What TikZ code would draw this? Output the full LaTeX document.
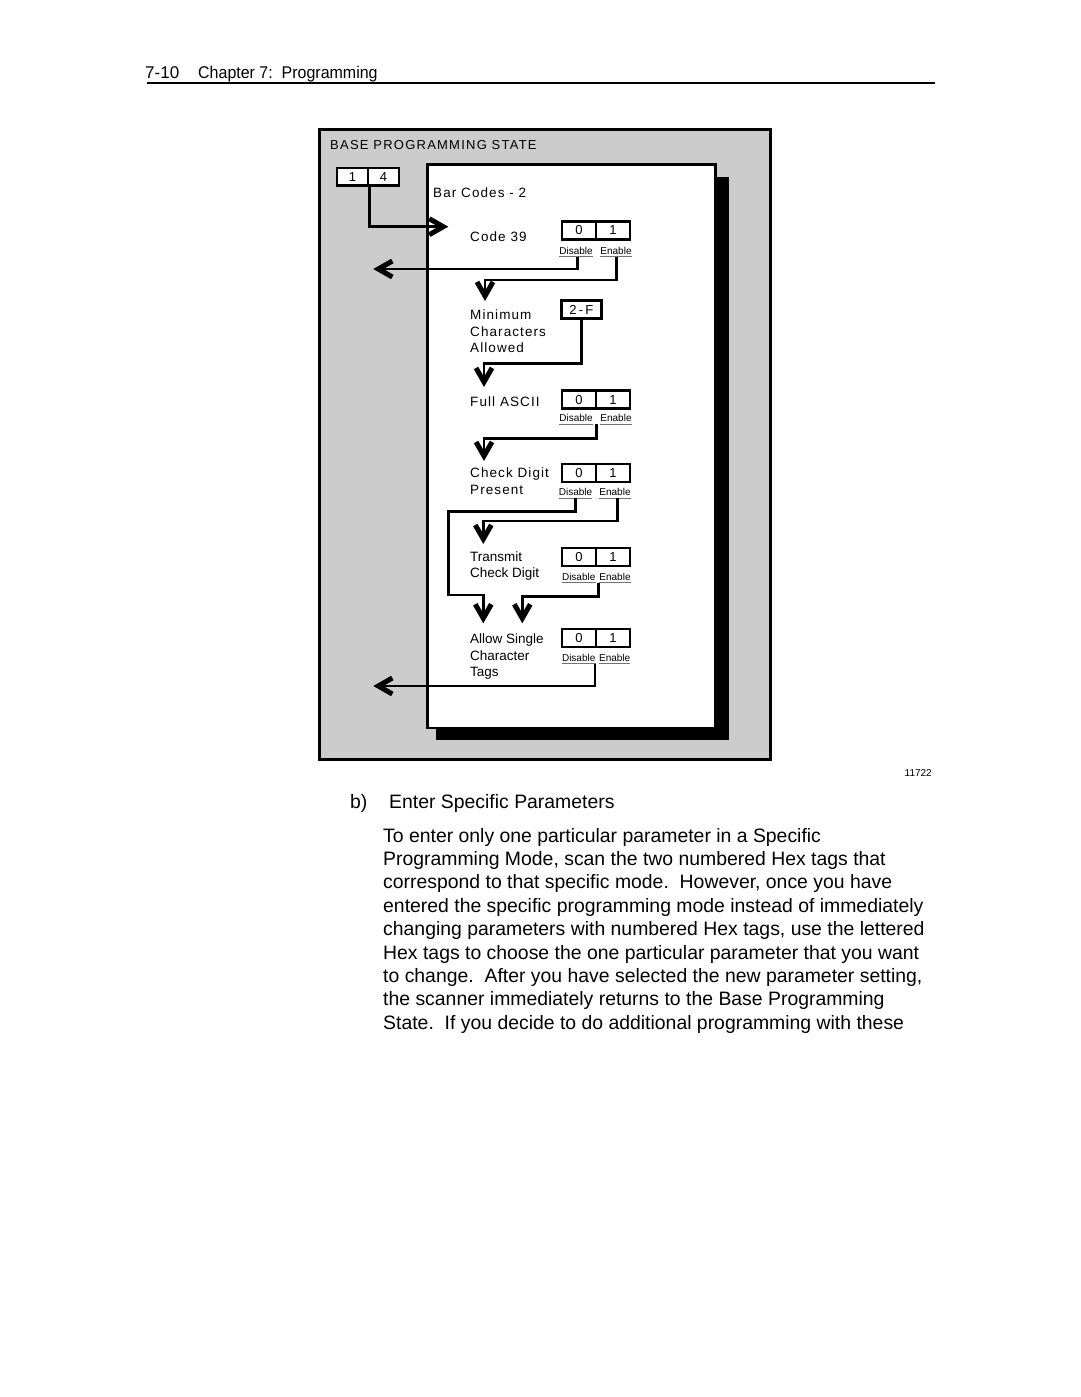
\documentclass[tikz,border=0pt]{standalone}
\usepackage{fontspec}
\setmainfont{Liberation Sans}
\newfontfamily\spc[LetterSpace=8]{Liberation Sans}
\newfontfamily\spcb[LetterSpace=9.5]{Liberation Sans}
\newfontfamily\hdr[FakeStretch=0.94]{Liberation Sans}
\usetikzlibrary{arrows.meta}
\definecolor{panelgray}{RGB}{204,204,204}
\begin{document}
\begin{tikzpicture}[x=1pt,y=-1pt,
  conn/.style={line width=2.6pt, line join=miter},
  arr/.style={conn, -{Straight Barb[length=14pt,width=16pt,line width=5pt]}},
  cell/.style={draw, line width=2.6pt, fill=white, minimum width=34pt, minimum height=18pt, inner sep=0pt, font=\spc\fontsize{13}{13}\selectfont},
  lbl/.style={inner sep=0pt, anchor=base, font=\fontsize{10}{10}\selectfont},
  uline/.style={draw=black!55, line width=0.8pt},
  txt/.style={inner sep=0pt, anchor=base west, font=\spc\fontsize{13.5}{16}\selectfont},
  txtn/.style={inner sep=0pt, anchor=base west, font=\fontsize{13.5}{16}\selectfont},
  para/.style={inner sep=0pt, anchor=base west, font=\fontsize{19.4}{23.4}\selectfont},
]
\useasboundingbox[fill=white] (0,0) rectangle (1080,1397);

% header
\node[inner sep=0pt, anchor=base west, font=\fontsize{17}{17}\selectfont] (pg) at (145,78) {7-10};
\node[inner sep=0pt, anchor=base west, font=\hdr\fontsize{17}{17}\selectfont] (ch) at (198,78) {Chapter 7:\ \ Programming};
\coordinate (rl) at (147,83); \coordinate (rr) at (935,83);
\draw[line width=1.5pt] (rl) -- (rr);

% panels
\draw[line width=3pt, fill=panelgray] (319.8,129.8) rectangle (770.2,759.2);
\fill[black] (436,176.7) rectangle (729,740);
\draw[line width=2.8pt, fill=white] (427.4,164.7) rectangle (715.3,727.9);

\node[inner sep=0pt, anchor=base west, font=\spcb\fontsize{13}{13}\selectfont] (title) at (330,149) {BASE PROGRAMMING STATE};

% 1 4 tag
\node[cell, minimum width=31pt, minimum height=17.5pt] (k1) at (352.5,176.7) {1};
\node[cell, minimum width=31pt, minimum height=17.5pt] (k4) at (383.5,176.7) {4};
\coordinate (a14) at (448.3,226.7);

\node[txt] (bc) at (433,197) {Bar Codes - 2};

% Code 39
\node[txt] (c39) at (470,241) {Code 39};
\node[cell] (c39a) at (579,230.4) {0};
\node[cell] (c39b) at (613,230.4) {1};
\node[lbl] (d1) at (576,254) {Disable};
\node[lbl] (e1) at (616,254) {Enable};

% Minimum characters
\node[txt] (mn1) at (470,319) {Minimum};
\node[txt] (mn2) at (470,336) {Characters};
\node[txt] (mn3) at (470,352.7) {Allowed};
\node[cell, minimum width=40pt] (twoF) at (581.3,309.7) {2\,-\,F};

% Full ASCII
\node[txt] (fa) at (470,406) {Full ASCII};
\node[cell] (faa) at (579,399.7) {0};
\node[cell] (fab) at (613,399.7) {1};
\node[lbl] (d2) at (576,421.7) {Disable};
\node[lbl] (e2) at (616,421.7) {Enable};

% Check digit present
\node[txt] (cd1) at (470,477) {Check Digit};
\node[txt] (cd2) at (470,494) {Present};
\node[cell] (cda) at (579,473) {0};
\node[cell] (cdb) at (613,473) {1};
\node[lbl] (d3) at (575.5,495.7) {Disable};
\node[lbl] (e3) at (615,495.7) {Enable};

% Transmit check digit
\node[txtn] (tc1) at (470,561) {Transmit};
\node[txtn] (tc2) at (470,577.7) {Check Digit};
\node[cell] (tca) at (579,557) {0};
\node[cell] (tcb) at (613,557) {1};
\node[lbl] (d4) at (578.7,580) {Disable};
\node[lbl] (e4) at (615,580) {Enable};

% Allow single character tags
\node[txtn] (as1) at (470,643) {Allow Single};
\node[txtn] (as2) at (470,660) {Character};
\node[txtn] (as3) at (470,676.7) {Tags};
\node[cell] (asa) at (579,638) {0};
\node[cell] (asb) at (613,638) {1};
\node[lbl] (d5) at (578.7,661) {Disable};
\node[lbl] (e5) at (614.7,661) {Enable};

% underlines
\foreach \n in {d1,e1,d2,e2,d3,e3,d4,e4,d5,e5}{
  \draw[uline] ([yshift=-2.6pt]\n.base west) -- ([yshift=-2.6pt]\n.base east);
}

% connector end points
\coordinate (s1) at (577.3,256.6);
\coordinate (t1) at (373.3,269);
\coordinate (s2) at (616.7,256.6);
\coordinate (t2) at (485,301);
\coordinate (t3) at (484,387);
\coordinate (s4) at (596.7,424.3);
\coordinate (t4) at (484,461);
\coordinate (s5) at (575.7,498.3);
\coordinate (t5) at (483.3,623.3);
\coordinate (s6) at (617.3,498.3);
\coordinate (t6) at (483.3,544);
\coordinate (s7) at (598.3,582.6);
\coordinate (t7) at (522.3,623.3);
\coordinate (s8) at (595,663.6);
\coordinate (t8) at (373.3,686);

% connectors
\draw[arr] (k1.south east) |- (a14);
\draw[arr] (s1) |- (t1);
\draw[arr] (s2) -- ++(0,23.4) -| (t2);
\draw[arr] (twoF.south) -- ++(0,43.3) -| (t3);
\draw[arr] (s4) -- ++(0,14) -| (t4);
\draw[arr] (s5) -- ++(0,13.4) -| ++(-127.4,83.3) -| (t5);
\draw[arr] (s6) -- ++(0,22.7) -| (t6);
\draw[arr] (s7) -- ++(0,14.1) -| (t7);
\draw[arr] (s8) |- (t8);

% figure number
\node[inner sep=0pt, anchor=base east, font=\fontsize{10}{10}\selectfont] (fig) at (932,776) {11722};

% text below
\node[para] (bl) at (350,808) {b)};
\node[para] (bh) at (389,808) {Enter Specific Parameters};
\node[para] (p1) at (383,842) {To enter only one particular parameter in a Specific};
\node[para] (p2) at (383,865.4) {Programming Mode, scan the two numbered Hex tags that};
\node[para] (p3) at (383,888.8) {correspond to that specific mode.\ \ However, once you have};
\node[para] (p4) at (383,912.2) {entered the specific programming mode instead of immediately};
\node[para] (p5) at (383,935.6) {changing parameters with numbered Hex tags, use the lettered};
\node[para] (p6) at (383,959) {Hex tags to choose the one particular parameter that you want};
\node[para] (p7) at (383,982.4) {to change.\ \ After you have selected the new parameter setting,};
\node[para] (p8) at (383,1005.8) {the scanner immediately returns to the Base Programming};
\node[para] (p9) at (383,1029.2) {State.\ \ If you decide to do additional programming with these};
\end{tikzpicture}
\end{document}
